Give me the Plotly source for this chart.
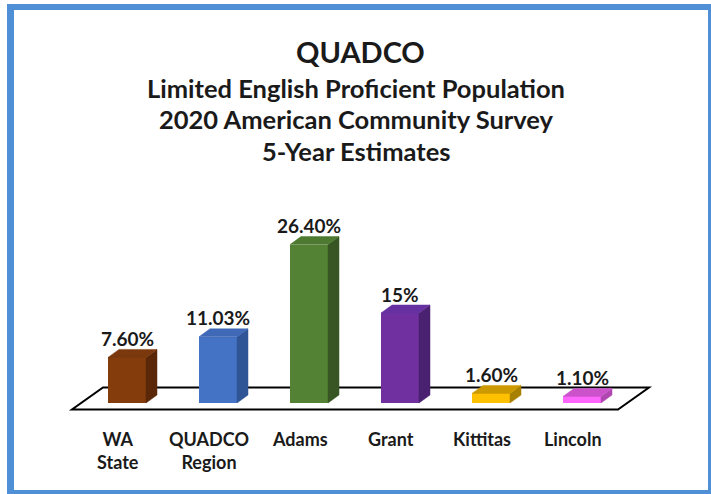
import plotly.graph_objects as go

# ---- data ----
categories = ["WA State", "QUADCO Region", "Adams", "Grant", "Kittitas", "Lincoln"]
cat_labels = ["WA<br>State", "QUADCO<br>Region", "Adams", "Grant", "Kittitas", "Lincoln"]
values = [7.60, 11.03, 26.40, 15.0, 1.60, 1.10]
value_labels = ["7.60%", "11.03%", "26.40%", "15%", "1.60%", "1.10%"]

front_colors = ["#843C0C", "#4472C4", "#548235", "#7030A0", "#FFC000", "#FF66FF"]
top_colors = ["#7A380C", "#3F69B6", "#4D7A30", "#6630A0", "#CC9A00", "#CC52CC"]
side_colors = ["#5A2808", "#2F5597", "#375623", "#4A2070", "#A88000", "#B047B0"]

title_lines = ["QUADCO",
               "Limited English Proficient Population",
               "2020 American Community Survey",
               "5-Year Estimates"]

# ---- geometry (axis units) ----
W, H = 711, 494
PX_X = 91.0      # pixels per category step
PX_Y = 6.0       # pixels per percentage point
X0_PIX = 127.0   # pixel of first category
Y0_PIX = 403.0   # pixel of zero
bar_w = 38 / PX_X
dx = 11 / PX_X
dy = 8 / PX_Y
FONT = "Lato"
TXT = "#1a1a1a"

xs = list(range(len(categories)))

fig = go.Figure()

# side and top faces
for xi, v, sc, tc in zip(xs, values, side_colors, top_colors):
    xl, xr = xi - bar_w / 2, xi + bar_w / 2
    fig.add_trace(go.Scatter(
        x=[xr, xr + dx, xr + dx, xr, xr],
        y=[0, dy, v + dy, v, 0],
        mode="lines", fill="toself", fillcolor=sc,
        line=dict(color=sc, width=0.5), hoverinfo="skip", showlegend=False))
    fig.add_trace(go.Scatter(
        x=[xl, xr, xr + dx, xl + dx, xl],
        y=[v, v, v + dy, v + dy, v],
        mode="lines", fill="toself", fillcolor=tc,
        line=dict(color=tc, width=0.5), hoverinfo="skip", showlegend=False))

# front faces
fig.add_trace(go.Bar(
    x=xs, y=values, width=bar_w,
    marker=dict(color=front_colors, line=dict(width=0)),
    hovertext=categories, showlegend=False))

annotations = []
for xi, v, lab in zip(xs, values, value_labels):
    annotations.append(dict(
        x=xi, y=v, xref="x", yref="y", text=lab, showarrow=False,
        yanchor="middle", yshift=19,
        font=dict(family=FONT, size=19, color=TXT, weight="bold")))
for xi, lab in zip(xs, cat_labels):
    annotations.append(dict(
        x=xi - 9 / PX_X, y=-(426 - Y0_PIX) / PX_Y, xref="x", yref="y",
        text=lab, showarrow=False, yanchor="top",
        font=dict(family=FONT, size=18, color=TXT, weight="bold")))

title_x = [360, 356, 356, 356]
title_y = [51, 88, 119, 151]
title_size = [29, 25.5, 25.5, 25.5]
for t, tx, ty, ts in zip(title_lines, title_x, title_y, title_size):
    annotations.append(dict(
        x=tx / W, y=1 - ty / H, xref="paper", yref="paper", text=t,
        showarrow=False, xanchor="center", yanchor="middle",
        font=dict(family=FONT, size=ts, color=TXT, weight="bold")))

# floor parallelogram (drawn below the bars)
fl_front_y = -(409.5 - Y0_PIX) / PX_Y
fl_back_y = (Y0_PIX - 387.5) / PX_Y
fl_x_left = (72 - X0_PIX) / PX_X
fl_x_right = (618 - X0_PIX) / PX_X
fl_shift = 31 / PX_X
floor_path = (f"M {fl_x_left},{fl_front_y} L {fl_x_right},{fl_front_y} "
              f"L {fl_x_right + fl_shift},{fl_back_y} L {fl_x_left + fl_shift},{fl_back_y} Z")

border = "#4F8FD6"
shapes = [
    dict(type="path", xref="x", yref="y", path=floor_path, layer="below",
         fillcolor="white", line=dict(color="black", width=2)),
    dict(type="line", xref="paper", yref="paper", x0=10.5 / W, x1=10.5 / W,
         y0=1 - 4 / H, y1=1 - 492 / H, line=dict(color=border, width=7)),
    dict(type="line", xref="paper", yref="paper", x0=7 / W, x1=711 / W,
         y0=1 - 7 / H, y1=1 - 7 / H, line=dict(color=border, width=6)),
    dict(type="line", xref="paper", yref="paper", x0=709.5 / W, x1=709.5 / W,
         y0=1 - 4 / H, y1=1 - 494 / H, line=dict(color=border, width=3)),
    dict(type="line", xref="paper", yref="paper", x0=7 / W, x1=711 / W,
         y0=1 - 492 / H, y1=1 - 492 / H, line=dict(color=border, width=4)),
]

fig.update_layout(
    width=W, height=H,
    margin=dict(l=0, r=0, t=0, b=0),
    paper_bgcolor="white", plot_bgcolor="white",
    xaxis=dict(range=[-X0_PIX / PX_X, (W - X0_PIX) / PX_X], visible=False, fixedrange=True),
    yaxis=dict(range=[-(H - Y0_PIX) / PX_Y, Y0_PIX / PX_Y], visible=False, fixedrange=True),
    annotations=annotations, shapes=shapes, bargap=0,
)

fig.write_html("out.html", config={"displayModeBar": False},
               post_script="document.body.style.margin='0px';"
               "document.body.style.overflow='hidden';")
